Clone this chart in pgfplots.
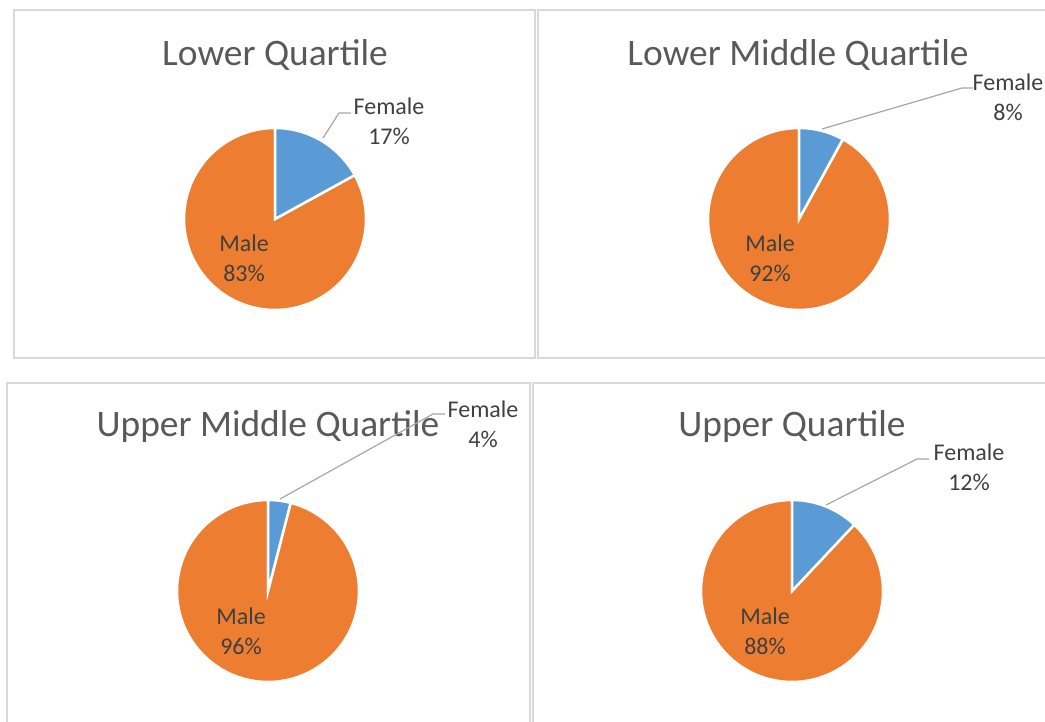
\documentclass[border=0pt]{standalone}
\usepackage{pgfplots}
\pgfplotsset{compat=1.18}
\usepackage{fontspec}
\setmainfont{Carlito}
\definecolor{pieblue}{HTML}{5B9BD5}
\definecolor{pieorange}{HTML}{ED7D31}
\definecolor{titlegray}{HTML}{595959}
\definecolor{labgray}{HTML}{404040}
\definecolor{leadgray}{HTML}{A6A6A6}
\definecolor{bordergray}{HTML}{D9D9D9}
% one pie: #1 x centre, #2 y centre (image px, from top), #3 female percent
\newcommand\pie[3]{%
  \pgfmathsetmacro\splitang{90-3.6*#3}%
  \pgfmathsetmacro\cy{722-#2}%
  \begin{axis}[at={(#1pt,\cy pt)}, anchor=origin, scale only axis,
      width=182pt, height=182pt, xmin=-1, xmax=1, ymin=-1, ymax=1,
      hide axis, clip=false]
    \addplot[fill=pieorange, draw=white, line width=2.5pt, domain=-270:\splitang, samples=120]
      ({cos(x)},{sin(x)}) -- (axis cs:0,0) -- cycle;
    \addplot[fill=pieblue, draw=white, line width=2.5pt, domain=\splitang:90, samples=60]
      ({cos(x)},{sin(x)}) -- (axis cs:0,0) -- cycle;
  \end{axis}}
\newcommand\lab[3]{\node[text=labgray, align=center, font=\fontsize{24}{30}\selectfont, anchor=center] at (#1,{722-#2}) {#3};}
\newcommand\ttl[3]{\node[text=titlegray, font=\fontsize{37.4}{44}\selectfont, anchor=center] at (#1,{722-#2}) {#3};}
\begin{document}
\begin{tikzpicture}[x=1pt,y=1pt]
\useasboundingbox (0,0) rectangle (1045,722);
\begin{scope}
\clip (0,0) rectangle (1045,722);
\draw[bordergray, line width=2pt] (14,{722-10}) rectangle (535,{722-358});
\draw[bordergray, line width=2pt] (538,{722-10}) rectangle (1060,{722-358});
\draw[bordergray, line width=2pt] (7,{722-383}) rectangle (530,{722-740});
\draw[bordergray, line width=2pt] (533,{722-383}) rectangle (1060,{722-740});
\end{scope}
% pies
\pie{275}{219}{17}
\pie{799}{219}{8}
\pie{268}{591}{4}
\pie{792}{591}{12}
% titles
\ttl{275}{55}{Lower Quartile}
\ttl{798}{55}{Lower Middle Quartile}
\ttl{268}{427}{Upper Middle Quartile}
\ttl{792}{427}{Upper Quartile}
% leader lines
\draw[leadgray, line width=1.2pt] (323,{722-138}) -- (339,{722-113}) -- (351,{722-113});
\draw[leadgray, line width=1.2pt] (822,{722-129}) -- (962,{722-88}) -- (973,{722-88});
\draw[leadgray, line width=1.2pt] (280,{722-499}) -- (433,{722-414}) -- (445,{722-414});
\draw[leadgray, line width=1.2pt] (826,{722-505}) -- (917,{722-459}) -- (929,{722-459});
% labels
\lab{389}{121}{Female\\17\%}
\lab{244}{258}{Male\\83\%}
\lab{1008}{97}{Female\\8\%}
\lab{770}{258}{Male\\92\%}
\lab{483}{424}{Female\\4\%}
\lab{241}{631}{Male\\96\%}
\lab{969}{467}{Female\\12\%}
\lab{765}{631}{Male\\88\%}
\end{tikzpicture}
\end{document}
